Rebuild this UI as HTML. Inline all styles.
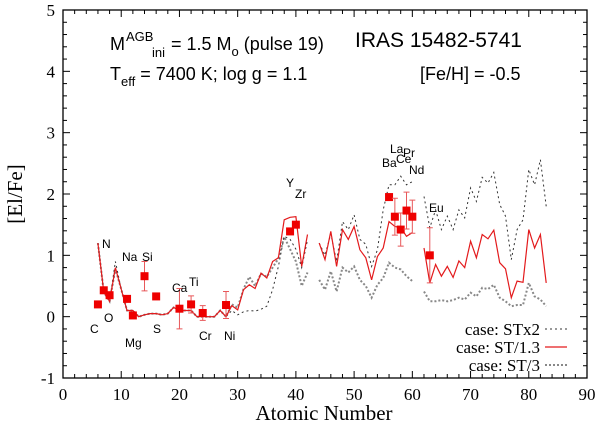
<!DOCTYPE html>
<html><head><meta charset="utf-8"><style>
body{margin:0;background:#fff}
svg{display:block}
.sans{font-family:"Liberation Sans",sans-serif}
.serif{font-family:"Liberation Serif",serif}
</style></head><body>
<svg id="chart" width="600" height="432" xmlns="http://www.w3.org/2000/svg">
<rect x="0" y="0" width="600" height="432" fill="#fff"/>
<g id="grid"></g>
<g id="series"></g>
<g id="obs"></g>
<g id="labels" class="sans" font-size="12" fill="#000">
<text x="90" y="333">C</text>
<text x="104" y="322">O</text>
<text x="102" y="248">N</text>
<text x="122" y="261">Na</text>
<text x="125" y="347">Mg</text>
<text x="142" y="261">Si</text>
<text x="153" y="333">S</text>
<text x="172" y="292">Ca</text>
<text x="189" y="286">Ti</text>
<text x="199" y="340">Cr</text>
<text x="224" y="340">Ni</text>
<text x="286" y="187">Y</text>
<text x="295" y="198">Zr</text>
<text x="382" y="167">Ba</text>
<text x="390" y="153">La</text>
<text x="396" y="163">Ce</text>
<text x="403" y="157">Pr</text>
<text x="409" y="174">Nd</text>
<text x="429" y="212">Eu</text>
</g>
<g class="sans" font-size="18" fill="#000">
<g>
<text x="110" y="50">M</text>
<text x="126" y="41" font-size="13">AGB</text>
<text x="152" y="57" font-size="13">ini</text>
<text x="171" y="50">= 1.5 M<tspan dy="6" font-size="13">o</tspan><tspan dy="-6"> (pulse 19)</tspan></text>
</g>
<text x="110" y="80">T<tspan dy="6" font-size="13">eff</tspan><tspan dy="-6"> = 7400 K; log g = 1.1</tspan></text>
<text x="355" y="47" font-size="21">IRAS 15482-5741</text>
<text x="420" y="80">[Fe/H] = -0.5</text>
</g>
<g id="legend" class="serif" font-size="17" fill="#000" text-anchor="end">
<g><text x="540" y="335">case: STx2</text><line x1="545" y1="329" x2="567" y2="329" stroke="#333" stroke-width="1" stroke-dasharray="2,3"/></g>
<g><text x="540" y="353">case: ST/1.3</text><line x1="545" y1="347" x2="567" y2="347" stroke="#e31a1c" stroke-width="1.2"/></g>
<g><text x="540" y="371">case: ST/3</text><line x1="545" y1="365" x2="567" y2="365" stroke="#888" stroke-width="2" stroke-dasharray="2,2"/></g>
</g>
<text x="22" y="194" class="serif" font-size="21" text-anchor="middle" transform="rotate(-90 22 194)">[El/Fe]</text>
<text x="324" y="420" class="serif" font-size="21" text-anchor="middle">Atomic Number</text>
</svg>
<script>
const xTicks=[0,10,20,30,40,50,60,70,80,90];
const yTicks=[-1,0,1,2,3,4,5];
const zVals=[6,7,8,9,10,11,12,13,14,15,16,17,18,19,20,21,22,23,24,25,26,27,28,29,30,31,32,33,34,35,36,37,38,39,40,41,42,43,44,45,46,47,48,49,50,51,52,53,54,55,56,57,58,59,60,61,62,63,64,65,66,67,68,69,70,71,72,73,74,75,76,77,78,79,80,81,82,83];
const st13=[1.2,0.4,0.25,0.8,0.45,0.1,0.1,0.0,0.03,0.05,0.05,0.03,0.05,0.15,0.1,0.1,0.1,0.0,0.0,0.0,0.0,0.1,0.0,0.18,0.11,0.44,0.52,0.46,0.71,0.63,0.9,0.96,1.58,1.62,1.63,0.82,1.34,null,1.2,0.93,1.39,0.82,1.42,1.26,1.47,1.09,0.96,0.6,0.98,1.12,1.55,1.47,1.45,1.31,1.37,null,1.12,0.55,0.85,0.66,0.82,0.64,0.91,0.8,1.23,0.96,1.34,1.27,1.41,0.88,0.78,0.31,0.58,0.56,1.42,1.12,1.34,0.55];
const stx2=[1.2,0.4,0.25,0.9,0.45,0.1,0.1,0.0,0.03,0.05,0.05,0.03,0.05,0.15,0.1,0.1,0.1,0.0,0.0,0.0,0.0,0.1,0.0,0.1,0.03,0.08,0.1,0.09,0.12,0.17,0.44,0.82,1.31,1.26,1.1,0.8,1.25,null,1.2,1.0,1.35,0.9,1.55,1.42,1.66,1.26,1.18,0.82,1.09,1.74,2.15,2.15,2.29,2.15,2.2,null,1.96,1.45,1.74,1.42,1.64,1.42,1.74,1.61,2.1,1.88,2.27,2.18,2.35,1.83,1.64,0.93,1.42,1.58,2.4,2.15,2.56,1.8];
const st3=[1.2,0.4,0.25,0.78,0.45,0.1,0.1,0.0,0.03,0.05,0.05,0.03,0.05,0.15,0.1,0.1,0.1,0.0,0.0,0.0,0.0,0.1,0.0,0.2,0.15,0.45,0.65,0.5,0.7,0.65,0.8,0.95,1.3,1.1,0.9,0.5,0.72,null,0.6,0.44,0.74,0.41,0.8,0.72,0.82,0.6,0.5,0.31,0.52,0.63,0.88,0.8,0.77,0.66,0.58,null,0.41,0.25,0.25,0.27,0.25,0.27,0.31,0.28,0.39,0.33,0.47,0.45,0.52,0.31,0.25,0.17,0.19,0.19,0.55,0.33,0.28,0.17];
const obsZ=[6,7,8,11,12,14,16,20,22,24,28,39,40,56,57,58,59,60,63];
const obsVal=[0.2,0.43,0.35,0.29,0.02,0.66,0.33,0.13,0.2,0.06,0.19,1.39,1.5,1.95,1.63,1.42,1.73,1.63,1.0];
const obsErr=[0.05,0,0,0,0,0.24,0,0.33,0.14,0.12,0.22,0,0,0,0.3,0.27,0.3,0.27,0.45];
const NS='http://www.w3.org/2000/svg';
const L=63,R=587,T=10,B=378;
const sx=v=>L+(v-0)/90*(R-L);
const sy=v=>B-(v+1)/6*(B-T);
function mk(tag,attrs,parent){const e=document.createElementNS(NS,tag);for(const k in attrs)e.setAttribute(k,attrs[k]);parent.appendChild(e);return e;}
const grid=document.getElementById('grid');
const frame=mk('rect',{x:L,y:T,width:R-L,height:B-T,fill:'none',stroke:'#000','stroke-width':1.3},grid);


for(let v=0;v<=90;v+=2){const big=v%10===0;const len=big?7:4;
mk('line',{x1:sx(v),x2:sx(v),y1:B,y2:B-len,stroke:'#000'},grid);
mk('line',{x1:sx(v),x2:sx(v),y1:T,y2:T+len,stroke:'#000'},grid);}
for(let i=0;i<=30;i++){const v=-1+i*0.2;const big=i%5===0;const len=big?7:4;
mk('line',{x1:L,x2:L+len,y1:sy(v),y2:sy(v),stroke:'#000'},grid);
mk('line',{x1:R,x2:R-len,y1:sy(v),y2:sy(v),stroke:'#000'},grid);}
xTicks.forEach(v=>{const t=mk('text',{x:sx(v),y:B+22,'text-anchor':'middle','font-size':17,'font-family':'Liberation Serif, serif'},grid);t.textContent=v;

});
yTicks.forEach(v=>{const t=mk('text',{x:L-8,y:sy(v)+6,'text-anchor':'end','font-size':17,'font-family':'Liberation Serif, serif'},grid);t.textContent=v;

});
function pathFor(vals){let d='',pen=false;vals.forEach((v,i)=>{if(v===null){pen=false;return;}d+=(pen?'L':'M')+sx(zVals[i]).toFixed(1)+','+sy(v).toFixed(1);pen=true;});return d;}
const ser=document.getElementById('series');
const p3=mk('path',{d:pathFor(st3),fill:'none',stroke:'#888','stroke-width':2,'stroke-dasharray':'2,2'},ser);


const p2=mk('path',{d:pathFor(stx2),fill:'none',stroke:'#333','stroke-width':1,'stroke-dasharray':'2,3'},ser);


const p1=mk('path',{d:pathFor(st13),fill:'none',stroke:'#e31a1c','stroke-width':1.2},ser);


const obs=document.getElementById('obs');
obsZ.forEach((z,i)=>{const x=sx(z),y=sy(obsVal[i]),e=obsErr[i];
if(e>0){const eb=mk('path',{d:`M${x},${sy(obsVal[i]+e)}V${sy(obsVal[i]-e)}M${x-3},${sy(obsVal[i]+e)}h6M${x-3},${sy(obsVal[i]-e)}h6`,stroke:'#e8585a','stroke-width':1,fill:'none'},obs);

}
const r=mk('rect',{x:x-4,y:y-4,width:8,height:8,fill:'#ee0000'},obs);

});
</script>
</body></html>
